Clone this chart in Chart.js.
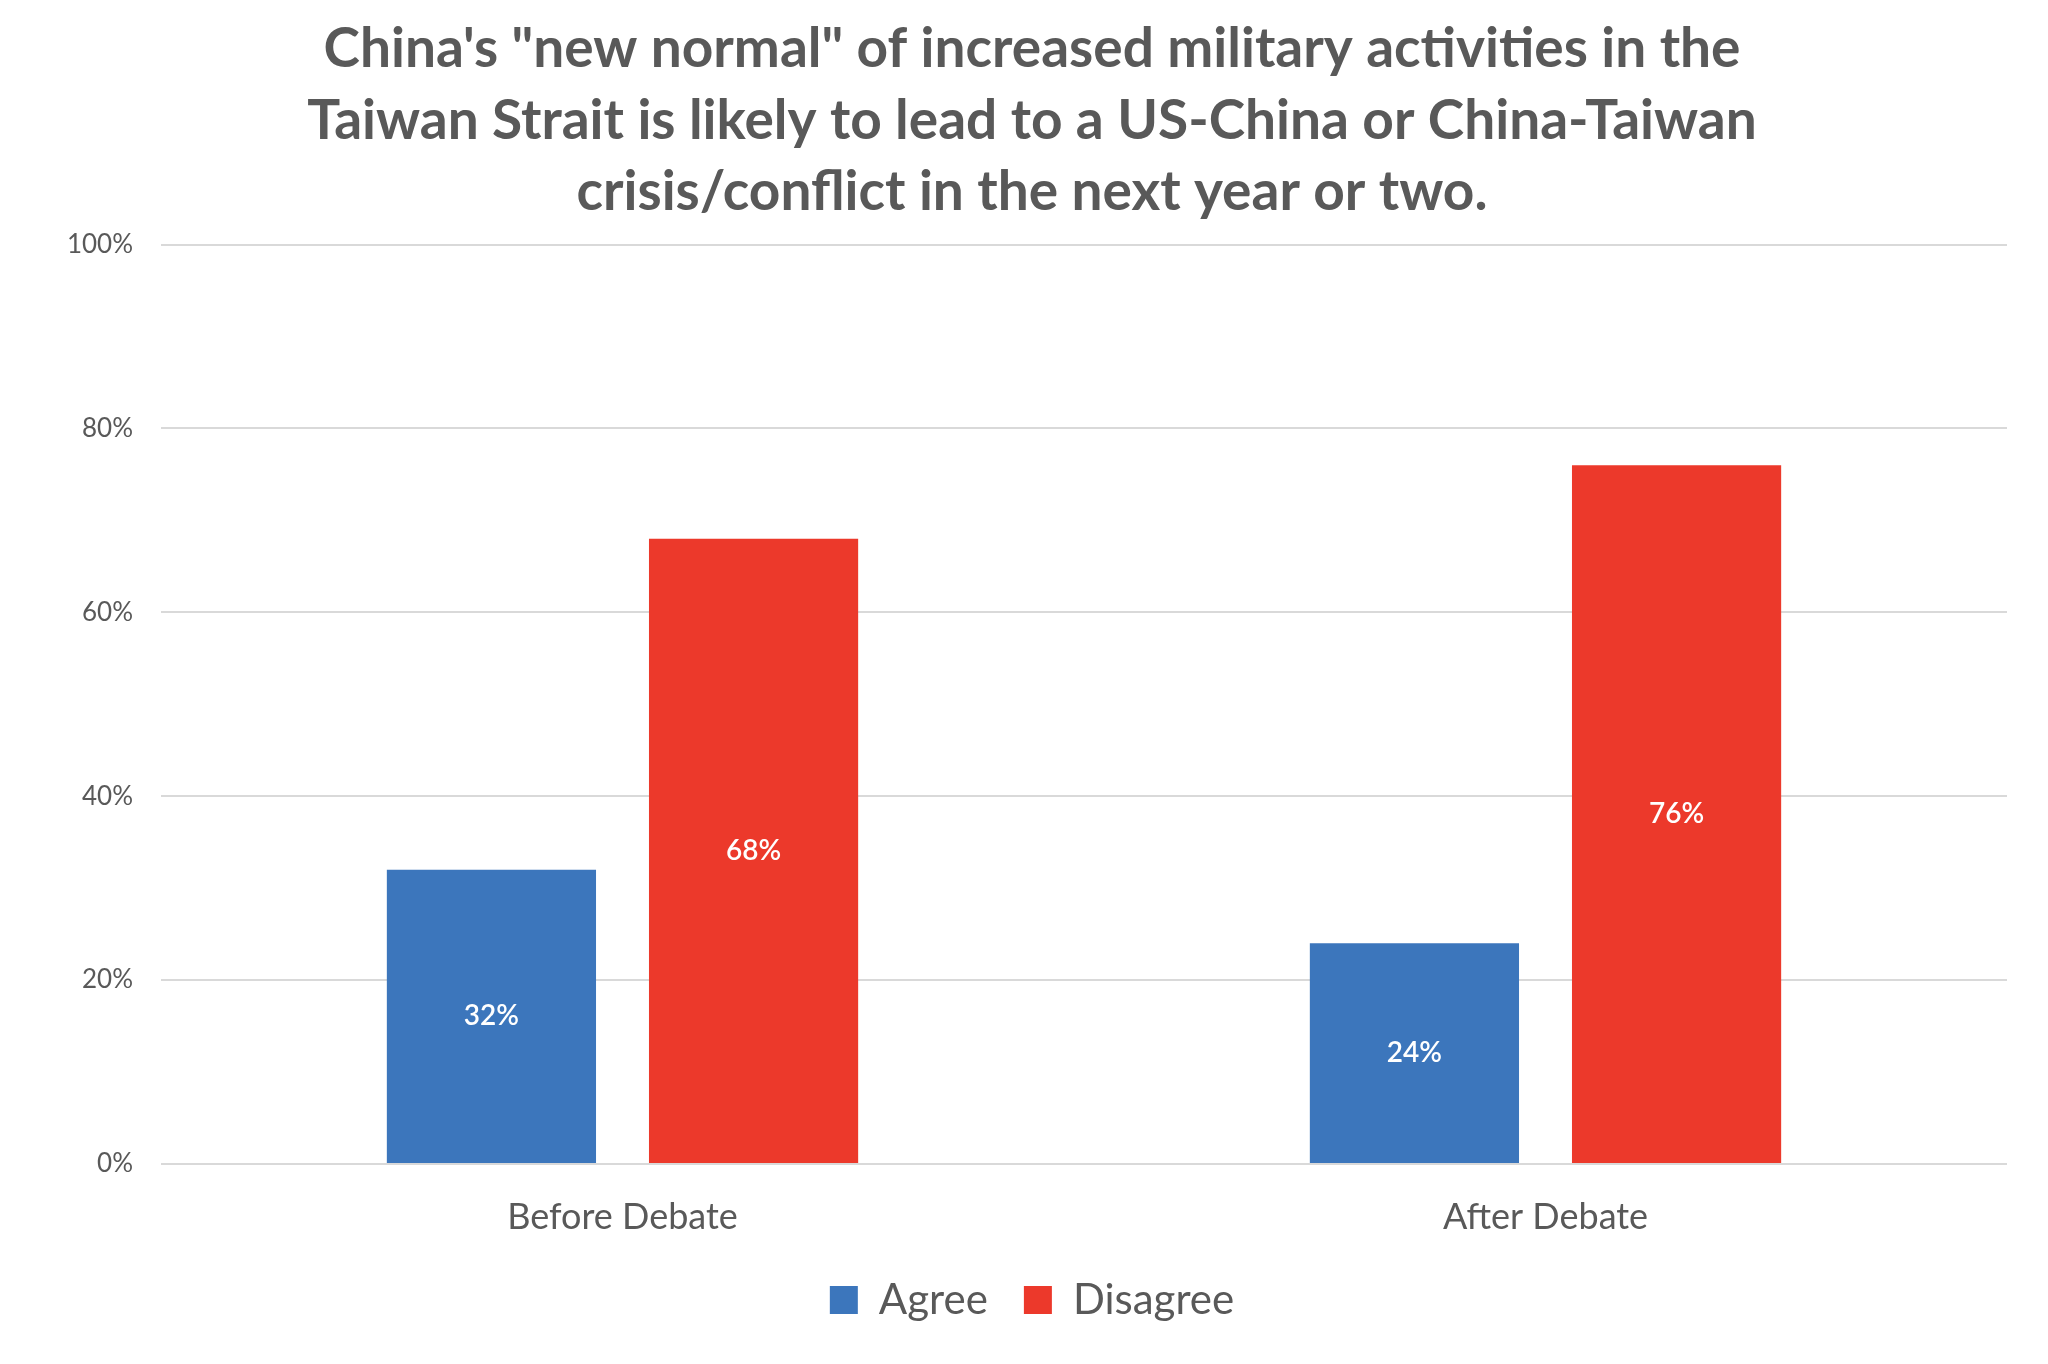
<!DOCTYPE html>
<html>
<head>
<meta charset="utf-8">
<script src="https://cdn.jsdelivr.net/npm/chart.js@4.4.0/dist/chart.umd.min.js"></script>
<style>
html,body{margin:0;padding:0;background:#fff;}
#wrap{width:2048px;height:1364px;}
</style>
</head>
<body>
<div id="wrap"><canvas id="c" width="2048" height="1364"></canvas></div>
<script>
const titleLines = [
  'China\'s "new normal" of increased military activities in the',
  'Taiwan Strait is likely to lead to a US-China or China-Taiwan',
  'crisis/conflict in the next year or two.'
];
const categories = ['Before Debate', 'After Debate'];
const agree = [32, 24];
const disagree = [68, 76];
const seriesNames = ['Agree', 'Disagree'];
const yTicks = [0, 20, 40, 60, 80, 100];

const TEXT = '#595959';
const FONT = 'Lato, "Open Sans", sans-serif';

const valueLabels = {
  id: 'valueLabels',
  afterDatasetsDraw(chart) {
    const ctx = chart.ctx;
    ctx.save();
    ctx.fillStyle = '#ffffff';
    ctx.font = '600 28px ' + FONT;
    ctx.textAlign = 'center';
    ctx.textBaseline = 'middle';
    chart.data.datasets.forEach((ds, i) => {
      const meta = chart.getDatasetMeta(i);
      meta.data.forEach((bar, j) => {
        const p = bar.getProps(['x', 'y', 'base'], true);
        ctx.fillText(ds.data[j] + '%', p.x, (p.y + p.base) / 2);
      });
    });
    ctx.restore();
  }
};

new Chart(document.getElementById('c'), {
  type: 'bar',
  data: {
    labels: categories,
    datasets: [
      { label: seriesNames[0], data: agree, backgroundColor: '#3C76BC', borderWidth: 0 },
      { label: seriesNames[1], data: disagree, backgroundColor: '#EC392B', borderWidth: 0 }
    ]
  },
  options: {
    responsive: false,
    animation: false,
    devicePixelRatio: 1,
    layout: { padding: { left: 57, right: 41, top: 0, bottom: 33 } },
    datasets: { bar: { categoryPercentage: 0.568, barPercentage: 0.798 } },
    plugins: {
      title: {
        display: true,
        text: titleLines,
        color: TEXT,
        font: { family: FONT, size: 55, weight: 'bold', lineHeight: 1.3 },
        padding: { top: 14, bottom: 16 }
      },
      legend: {
        position: 'bottom',
        labels: {
          color: TEXT,
          font: { family: FONT, size: 42 },
          boxWidth: 28,
          boxHeight: 28,
          padding: 36
        }
      },
      tooltip: { enabled: false }
    },
    scales: {
      x: {
        grid: { display: false, drawTicks: false },
        border: { display: false },
        ticks: { color: TEXT, font: { family: FONT, size: 36 }, padding: 32 },
        afterFit(s) { s.height = 79; }
      },
      y: {
        min: 0, max: 100,
        afterBuildTicks(s) { s.ticks = yTicks.map(v => ({ value: v })); },
        grid: { color: '#D9D9D9', lineWidth: 2, drawTicks: false },
        border: { display: false },
        ticks: {
          color: TEXT,
          font: { family: FONT, size: 26 },
          padding: 28,
          callback: v => v + '%'
        },
        afterFit(s) { s.width = 104; }
      }
    }
  },
  plugins: [valueLabels]
});
</script>
</body>
</html>
